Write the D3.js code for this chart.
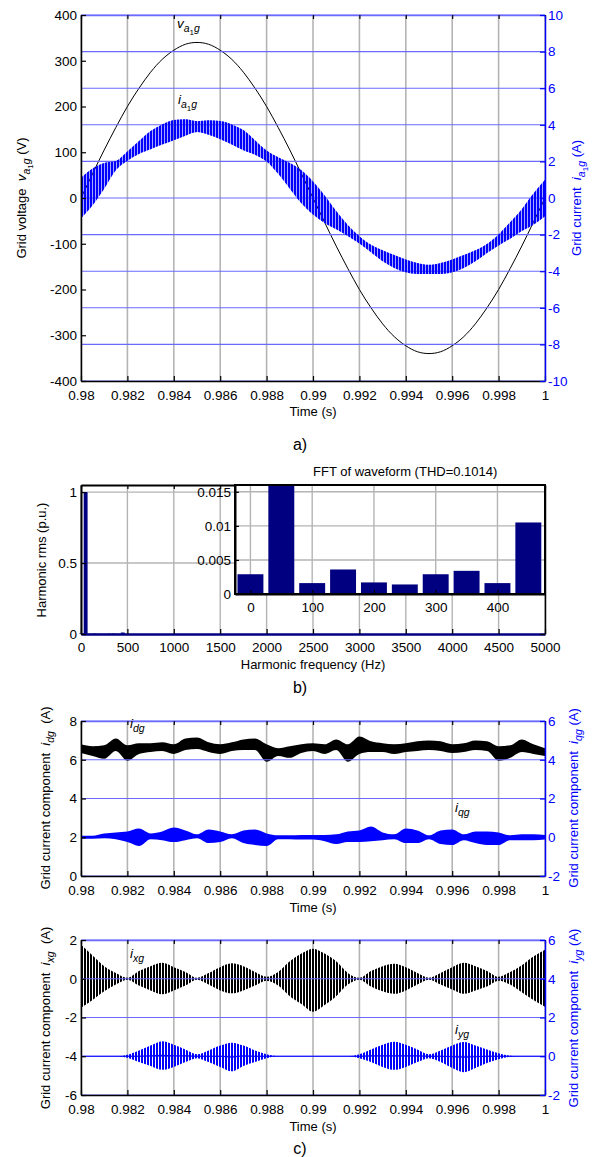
<!DOCTYPE html>
<html>
<head>
<meta charset="utf-8">
<script src="https://cdn.jsdelivr.net/npm/d3@7"></script>
<style>
  body { margin: 0; background: #fff; }
  text { font-family: Arial, "Liberation Sans", sans-serif; white-space: pre; }
</style>
</head>
<body>
<svg id="chart" width="600" height="1157"></svg>
<script>
// ---- data ----
const timeTicks = [0.98, 0.982, 0.984, 0.986, 0.988, 0.99, 0.992, 0.994, 0.996, 0.998, 1]
const timeTickLabels = ['0.98', '0.982', '0.984', '0.986', '0.988', '0.99', '0.992', '0.994', '0.996', '0.998', '1']

// sample instants (0.5 ms) for every waveform below
const timeSteps = [0.98, 0.9805, 0.981, 0.9815, 0.982, 0.9825, 0.983, 0.9835, 0.984, 0.9845,
  0.985, 0.9855, 0.986, 0.9865, 0.987, 0.9875, 0.988, 0.9885, 0.989, 0.9895,
  0.99, 0.9905, 0.991, 0.9915, 0.992, 0.9925, 0.993, 0.9935, 0.994, 0.9945,
  0.995, 0.9955, 0.996, 0.9965, 0.997, 0.9975, 0.998, 0.9985, 0.999, 0.9995, 1.0]

// a) grid voltage (V)
const gridVoltage = [0, 53, 105, 154, 200, 240, 275, 303, 323, 336,
  340, 336, 323, 303, 275, 240, 200, 154, 105, 53,
  0, -53, -105, -154, -200, -240, -275, -303, -323, -336,
  -340, -336, -323, -303, -275, -240, -200, -154, -105, -53, 0]
// a) grid current ripple band (A), upper / lower envelope
const currentUpper = [1.1, 1.61, 1.91, 2.02, 2.54, 3.11, 3.66, 4.02, 4.26, 4.3,
  4.2, 4.25, 4.21, 4.02, 3.71, 3.16, 2.59, 2.22, 1.91, 1.51,
  0.9, 0.14, -0.71, -1.47, -2.09, -2.56, -2.86, -3.12, -3.36, -3.55,
  -3.65, -3.55, -3.36, -3.12, -2.86, -2.51, -1.99, -1.32, -0.61, 0.24, 1.0]
const currentLower = [-1.1, -0.39, 0.51, 1.52, 2.04, 2.41, 2.66, 2.92, 3.16, 3.4,
  3.6, 3.45, 3.21, 2.92, 2.61, 2.36, 1.99, 1.32, 0.51, -0.29,
  -0.9, -1.36, -1.71, -2.07, -2.49, -2.96, -3.46, -3.82, -4.06, -4.15,
  -4.15, -4.15, -4.06, -3.82, -3.46, -3.01, -2.59, -2.22, -1.81, -1.46, -1.0]

// b) harmonic spectrum (p.u.)
const harmonicFreq = [0, 50, 100, 150, 200, 250, 300, 350, 400, 450]
const harmonicRms = [0.0029, 1.0, 0.0016, 0.0036, 0.0017, 0.0014, 0.0029, 0.0034, 0.0016, 0.0105]
const freqTicks = [0, 500, 1000, 1500, 2000, 2500, 3000, 3500, 4000, 4500, 5000]
const rmsTicks = [0, 0.5, 1]
const insetFreqTicks = [0, 100, 200, 300, 400]
const insetRmsTicks = [0, 0.005, 0.01, 0.015]

// c) d/q components (A)
const idgUpper = [6.8, 6.7, 6.75, 7.1, 6.75, 6.85, 6.85, 6.9, 6.8, 7.1,
  7.15, 6.9, 6.8, 6.9, 7.05, 7.1, 6.8, 6.6, 6.7, 6.8,
  6.85, 6.8, 7.05, 6.8, 7.2, 6.95, 6.85, 6.8, 6.85, 6.95,
  7.0, 6.95, 6.8, 6.85, 7.0, 6.95, 6.7, 6.75, 7.05, 6.8, 6.6]
const idgLower = [6.35, 6.2, 6.05, 6.45, 5.95, 6.3, 6.4, 6.45, 6.3, 6.5,
  6.55, 6.4, 6.3, 6.45, 6.5, 6.5, 5.9, 6.2, 6.1, 6.35,
  6.45, 6.3, 6.5, 5.9, 6.3, 6.4, 6.4, 6.3, 6.4, 6.45,
  6.5, 6.45, 6.35, 6.4, 6.5, 6.45, 5.95, 6.1, 6.4, 6.3, 6.2]
const iqgUpper = [0.08, 0.08, 0.2, 0.25, 0.3, 0.45, 0.2, 0.3, 0.5, 0.35,
  0.15, 0.4, 0.3, 0.15, 0.35, 0.4, 0.2, 0.1, 0.1, 0.12,
  0.12, 0.12, 0.15, 0.3, 0.35, 0.55, 0.25, 0.15, 0.45, 0.35,
  0.1, 0.35, 0.4, 0.15, 0.3, 0.3, 0.25, 0.1, 0.15, 0.15, 0.12]
const iqgLower = [-0.08, -0.08, -0.05, -0.1, -0.25, -0.45, -0.1, -0.15, -0.25, -0.15,
  -0.05, -0.3, -0.25, -0.05, -0.3, -0.4, -0.45, -0.1, -0.1, -0.12,
  -0.12, -0.2, -0.35, -0.25, -0.25, -0.2, -0.15, -0.1, -0.3, -0.3,
  -0.1, -0.35, -0.4, -0.15, -0.3, -0.4, -0.4, -0.15, -0.15, -0.15, -0.12]

// c) x/y components (A)
const ixgUpper = [1.75, 1.2, 0.65, 0.3, 0.05, 0.4, 0.65, 0.82, 0.6, 0.35,
  0.05, 0.3, 0.6, 0.8, 0.65, 0.35, 0.1, 0.35, 0.9, 1.3,
  1.55, 1.3, 0.9, 0.3, 0.05, 0.4, 0.65, 0.78, 0.6, 0.3,
  0.05, 0.3, 0.6, 0.82, 0.65, 0.4, 0.1, 0.35, 0.7, 1.15, 1.5]
const ixgLower = [-1.5, -1.1, -0.65, -0.3, -0.05, -0.35, -0.6, -0.8, -0.6, -0.35,
  -0.05, -0.3, -0.6, -0.75, -0.6, -0.35, -0.1, -0.35, -0.9, -1.3,
  -1.7, -1.35, -0.9, -0.3, -0.05, -0.4, -0.65, -0.78, -0.6, -0.3,
  -0.05, -0.3, -0.55, -0.78, -0.6, -0.4, -0.1, -0.3, -0.7, -1.1, -1.45]
const iygUpper = [0, 0, 0, 0, 0.08, 0.3, 0.55, 0.78, 0.6, 0.35,
  0.1, 0.3, 0.55, 0.7, 0.55, 0.3, 0.1, 0, 0, 0,
  0, 0, 0, 0, 0.1, 0.35, 0.6, 0.75, 0.6, 0.35,
  0.1, 0.3, 0.55, 0.73, 0.55, 0.35, 0.15, 0.03, 0, 0, 0]
const iygLower = [0, 0, 0, 0, -0.08, -0.3, -0.5, -0.7, -0.55, -0.3,
  -0.1, -0.3, -0.55, -0.78, -0.5, -0.3, -0.1, 0, 0, 0,
  0, 0, 0, 0, -0.1, -0.3, -0.55, -0.7, -0.55, -0.3,
  -0.1, -0.3, -0.6, -0.82, -0.6, -0.35, -0.15, -0.03, 0, 0, 0]

// ---- drawing ----
const svg = d3.select('#chart')
const defs = svg.append('defs')
const X0 = 81, X1 = 545
const BLUE = '#0000ff', NAVY = '#000080'
const GRID_GREY = '#b4b4b4', GRID_BLUE = '#6a6aff'
const FONT = 'Arial, "Liberation Sans", sans-serif'
const SERIF = '"Liberation Serif", "Times New Roman", serif'
const TICK_SIZE = 13.5, LABEL_SIZE = 13

// dense switching ripple is drawn as vertical hatching inside the envelope
function stripes(id, color) {
  defs.append('pattern').attr('id', id).attr('patternUnits', 'userSpaceOnUse')
    .attr('width', 3).attr('height', 10)
    .append('rect').attr('width', 2).attr('height', 10).attr('fill', color)
}
stripes('hatch-black', '#000')
stripes('hatch-blue', BLUE)

function styleAxis(sel, color) {
  sel.attr('font-family', FONT).attr('font-size', TICK_SIZE)
  sel.select('.domain').attr('stroke', color).attr('stroke-width', 1.5)
  sel.selectAll('.tick line').attr('stroke', color).attr('stroke-width', 1.2)
  sel.selectAll('.tick text').attr('fill', color)
}

// rich text: segments of [text, dy, font-size, italic]
function rich(sel, segs) {
  segs.forEach(s => {
    sel.append('tspan').text(s[0])
      .attr('dy', s[1] || 0)
      .attr('font-size', s[2] || null)
      .attr('font-style', s[3] ? 'italic' : null)
  })
  return sel
}
function sym(main, sub, subsub, rest) {
  const segs = [[main, 0, 13.5, 1], [sub[0], 4, 10.5, 1]]
  if (subsub) {
    segs.push([subsub, 2.5, 8], [sub.slice(1), -2.5, 10.5, 1])
  } else {
    segs[1][0] = sub
  }
  if (rest) segs.push([rest, -4, LABEL_SIZE])
  return segs
}

function vLabel(x, y, segs, color) {
  const t = svg.append('text').attr('transform', `translate(${x},${y}) rotate(-90)`)
    .attr('text-anchor', 'middle').attr('font-size', LABEL_SIZE).attr('fill', color)
  rich(t, segs)
}
function hLabel(x, y, txt, size, family) {
  svg.append('text').attr('x', x).attr('y', y).attr('text-anchor', 'middle')
    .attr('font-size', size || LABEL_SIZE).attr('font-family', family || FONT).text(txt)
}
function inlineLabel(x, y, segs, color) {
  rich(svg.append('text').attr('x', x).attr('y', y).attr('fill', color), segs)
}

function timePanel(id, top, bottom, leftDomain, leftTicks, rightDomain, rightTicks) {
  const x = d3.scaleLinear().domain([0.98, 1]).range([X0, X1])
  const yL = d3.scaleLinear().domain(leftDomain).range([bottom, top])
  const yR = d3.scaleLinear().domain(rightDomain).range([bottom, top])
  const g = svg.append('g').attr('id', id)
  defs.append('clipPath').attr('id', 'clip-' + id).append('rect')
    .attr('x', X0).attr('y', top).attr('width', X1 - X0).attr('height', bottom - top)

  g.append('g').selectAll('line').data(timeTicks).join('line')
    .attr('x1', d => x(d)).attr('x2', d => x(d)).attr('y1', top).attr('y2', bottom)
    .attr('stroke', GRID_GREY).attr('stroke-width', 1.6)
  const back = g.append('g').attr('clip-path', `url(#clip-${id})`)
  // the right (blue) axes sit on top, so its grid covers the black trace
  g.append('g').selectAll('line').data(rightTicks).join('line')
    .attr('x1', X0).attr('x2', X1).attr('y1', d => yR(d)).attr('y2', d => yR(d))
    .attr('stroke', GRID_BLUE).attr('stroke-width', 1.1)
  const front = g.append('g').attr('clip-path', `url(#clip-${id})`)

  g.append('g').attr('transform', `translate(0,${bottom})`)
    .call(d3.axisBottom(x).tickValues(timeTicks).tickFormat((d, i) => timeTickLabels[i])
      .tickSize(-5).tickSizeOuter(0).tickPadding(9))
    .call(s => styleAxis(s, '#000'))
  g.append('g').attr('transform', `translate(0,${top})`)
    .call(d3.axisTop(x).tickValues(timeTicks).tickFormat('').tickSize(-4).tickSizeOuter(0))
    .call(s => styleAxis(s, GRID_BLUE))
    .call(s => s.selectAll('.tick line').attr('stroke', '#000'))
  g.append('g').attr('transform', `translate(${X0},0)`)
    .call(d3.axisLeft(yL).tickValues(leftTicks).tickFormat(d => String(d))
      .tickSize(-5).tickSizeOuter(0).tickPadding(4))
    .call(s => styleAxis(s, '#000'))
  g.append('g').attr('transform', `translate(${X1},0)`)
    .call(d3.axisRight(yR).tickValues(rightTicks).tickFormat(d => String(d))
      .tickSize(-5).tickSizeOuter(0).tickPadding(3))
    .call(s => styleAxis(s, BLUE))
  return { x, yL, yR, back, front }
}

function band(layer, x, y, upper, lower, fill) {
  const area = d3.area()
    .x((d, i) => x(timeSteps[i]))
    .y0((d, i) => y(lower[i]))
    .y1(d => y(d))
    .curve(d3.curveMonotoneX)
  return layer.append('path').datum(upper).attr('d', area).attr('fill', fill)
}

// ---------- a) ----------
const pa = timePanel('pa', 15, 381, [-400, 400], d3.range(-400, 401, 100), [-10, 10], d3.range(-10, 11, 2))
pa.back.append('path').datum(gridVoltage)
  .attr('d', d3.line().x((d, i) => pa.x(timeSteps[i])).y(d => pa.yL(d)).curve(d3.curveNatural))
  .attr('fill', 'none').attr('stroke', '#000').attr('stroke-width', 1)
band(pa.front, pa.x, pa.yR, currentUpper, currentLower, 'url(#hatch-blue)')
band(pa.front, pa.x, pa.yR, currentUpper, currentLower, BLUE).attr('opacity', 0.35)

inlineLabel(177, 28, sym('v', 'ag', '1'), '#000')
inlineLabel(178, 104, sym('i', 'ag', '1'), '#000')
vLabel(26, 198, [['Grid voltage  ']].concat(sym('v', 'ag', '1', ' (V)')), '#000')
vLabel(581, 198, [['Grid current  ']].concat(sym('i', 'ag', '1', ' (A)')), BLUE)
hLabel(313, 416, 'Time (s)')
hLabel(300, 450, 'a)', 16, SERIF)

// ---------- b) ----------
{
  const top = 485, bottom = 634
  const x = d3.scaleLinear().domain([0, 5000]).range([X0, X1])
  const y = d3.scaleLinear().domain([0, 1.05]).range([bottom, top])
  const g = svg.append('g')
  g.append('g').selectAll('line').data(freqTicks).join('line')
    .attr('x1', d => x(d)).attr('x2', d => x(d)).attr('y1', top).attr('y2', bottom)
    .attr('stroke', GRID_GREY).attr('stroke-width', 1.4)
  g.append('g').selectAll('line').data(rmsTicks.slice(1)).join('line')
    .attr('x1', X0).attr('x2', X1).attr('y1', d => y(d)).attr('y2', d => y(d))
    .attr('stroke', GRID_GREY).attr('stroke-width', 1.4)
  g.append('g').selectAll('rect').data(harmonicFreq).join('rect')
    .attr('x', d => x(d - 21)).attr('width', d => x(d + 21) - x(d - 21))
    .attr('y', (d, i) => y(harmonicRms[i])).attr('height', (d, i) => bottom - y(harmonicRms[i]))
    .attr('fill', NAVY)
  g.append('g').attr('transform', `translate(0,${bottom})`)
    .call(d3.axisBottom(x).tickValues(freqTicks).tickFormat(d => String(d))
      .tickSize(-5).tickSizeOuter(0).tickPadding(8))
    .call(s => styleAxis(s, '#000'))
    .call(s => s.select('.domain').attr('stroke', NAVY).attr('stroke-width', 2.5))
  g.append('g').attr('transform', `translate(0,${top})`)
    .call(d3.axisTop(x).tickValues(freqTicks).tickFormat('').tickSize(-4).tickSizeOuter(0))
    .call(s => styleAxis(s, '#000'))
    .call(s => s.select('.domain').attr('stroke-width', 2))
  g.append('g').attr('transform', `translate(${X0},0)`)
    .call(d3.axisLeft(y).tickValues(rmsTicks).tickFormat(d => String(d))
      .tickSize(-5).tickSizeOuter(0).tickPadding(4))
    .call(s => styleAxis(s, '#000'))
    .call(s => s.select('.domain').attr('stroke-width', 2))
  g.append('g').attr('transform', `translate(${X1},0)`)
    .call(d3.axisRight(y).tickValues(rmsTicks).tickFormat('').tickSize(-5).tickSizeOuter(0))
    .call(s => styleAxis(s, '#000'))

  // inset zoom on the low harmonics
  const iL = 235, iR = 545, iT = 485, iB = 594
  const xi = d3.scaleLinear().domain([-25, 477]).range([iL, iR])
  const yi = d3.scaleLinear().domain([0, 0.016]).range([iB, iT])
  const gi = svg.append('g')
  defs.append('clipPath').attr('id', 'clip-inset').append('rect')
    .attr('x', iL).attr('y', iT).attr('width', iR - iL).attr('height', iB - iT)
  gi.append('rect').attr('x', iL).attr('y', iT).attr('width', iR - iL).attr('height', iB - iT).attr('fill', '#fff')
  gi.append('g').selectAll('line').data(insetFreqTicks).join('line')
    .attr('x1', d => xi(d)).attr('x2', d => xi(d)).attr('y1', iT).attr('y2', iB)
    .attr('stroke', GRID_GREY).attr('stroke-width', 1.4)
  gi.append('g').selectAll('line').data(insetRmsTicks.slice(1)).join('line')
    .attr('x1', iL).attr('x2', iR).attr('y1', d => yi(d)).attr('y2', d => yi(d))
    .attr('stroke', GRID_GREY).attr('stroke-width', 1.4)
  gi.append('g').attr('clip-path', 'url(#clip-inset)')
    .selectAll('rect').data(harmonicFreq).join('rect')
    .attr('x', d => xi(d - 21)).attr('width', d => xi(d + 21) - xi(d - 21))
    .attr('y', (d, i) => yi(harmonicRms[i])).attr('height', (d, i) => iB - yi(harmonicRms[i]))
    .attr('fill', NAVY)
  gi.append('g').attr('transform', `translate(0,${iB})`)
    .call(d3.axisBottom(xi).tickValues(insetFreqTicks).tickFormat(d => String(d))
      .tickSize(-4).tickSizeOuter(0).tickPadding(8))
    .call(s => styleAxis(s, '#000'))
    .call(s => s.select('.domain').attr('stroke-width', 2))
  gi.append('g').attr('transform', `translate(${iL},0)`)
    .call(d3.axisLeft(yi).tickValues(insetRmsTicks).tickFormat(d => String(d))
      .tickSize(-4).tickSizeOuter(0).tickPadding(4))
    .call(s => styleAxis(s, '#000'))
    .call(s => s.select('.domain').attr('stroke-width', 2))
  gi.append('rect').attr('x', iL).attr('y', iT).attr('width', iR - iL).attr('height', iB - iT)
    .attr('fill', 'none').attr('stroke', '#000').attr('stroke-width', 2)
  svg.append('text').attr('x', 313).attr('y', 476).attr('font-size', LABEL_SIZE).text('FFT of waveform (THD=0.1014)')

  vLabel(46, 560, [['Harmonic rms (p.u.)']], '#000')
  hLabel(313, 669, 'Harmonic frequency (Hz)')
  hLabel(300, 693, 'b)', 16, SERIF)
}

// ---------- c) d/q ----------
const pc1 = timePanel('pc1', 721, 876, [0, 8], [0, 2, 4, 6, 8], [-2, 6], [-2, 0, 2, 4, 6])
band(pc1.back, pc1.x, pc1.yL, idgUpper, idgLower, '#000')
band(pc1.front, pc1.x, pc1.yR, iqgUpper, iqgLower, BLUE)
inlineLabel(130, 728, sym('i', 'dg'), '#000')
inlineLabel(455, 812, sym('i', 'qg'), '#000')
vLabel(50, 798, [['Grid current component  ']].concat(sym('i', 'dg', null, '  (A)')), '#000')
vLabel(578, 798, [['Grid current component  ']].concat(sym('i', 'qg', null, ' (A)')), BLUE)
hLabel(313, 912, 'Time (s)')

// ---------- c) x/y ----------
const pc2 = timePanel('pc2', 940, 1095, [-6, 2], [-6, -4, -2, 0, 2], [-2, 6], [-2, 0, 2, 4, 6])
band(pc2.back, pc2.x, pc2.yL, ixgUpper, ixgLower, 'url(#hatch-black)')
band(pc2.front, pc2.x, pc2.yR, iygUpper, iygLower, 'url(#hatch-blue)')
pc2.front.append('path').datum(iygUpper)
  .attr('d', d3.line().x((d, i) => pc2.x(timeSteps[i])).y((d, i) => pc2.yR((d + iygLower[i]) / 2)))
  .attr('fill', 'none').attr('stroke', BLUE).attr('stroke-width', 1.2)
inlineLabel(130, 958, sym('i', 'xg'), '#000')
inlineLabel(455, 1034, sym('i', 'yg'), '#000')
vLabel(50, 1018, [['Grid current component  ']].concat(sym('i', 'xg', null, '  (A)')), '#000')
vLabel(578, 1018, [['Grid current component  ']].concat(sym('i', 'yg', null, ' (A)')), BLUE)
hLabel(313, 1131, 'Time (s)')
hLabel(300, 1154, 'c)', 16, SERIF)
</script>
</body>
</html>
